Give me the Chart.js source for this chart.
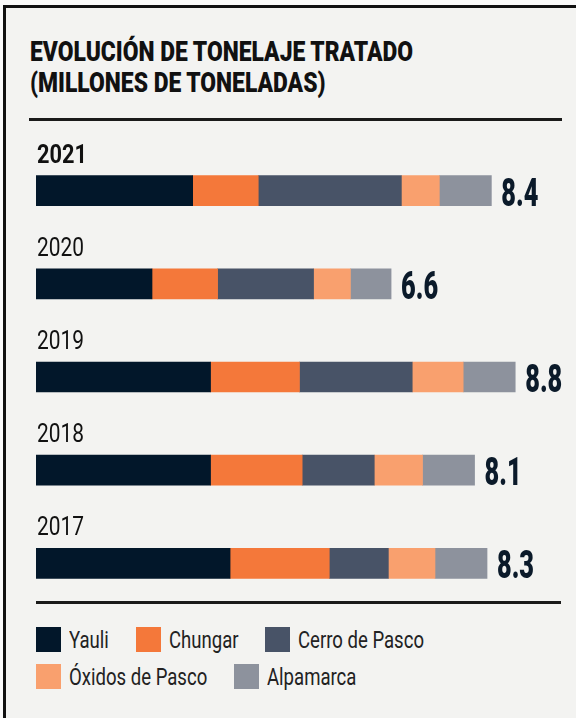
<!DOCTYPE html>
<html lang="es">
<head>
<meta charset="UTF-8">
<title>Evolución de tonelaje tratado</title>
<script src="https://cdn.jsdelivr.net/npm/chart.js"></script>
<style>
  html, body { margin: 0; padding: 0; }
  body { width: 576px; height: 718px; overflow: hidden; background: #fafafa; position: relative; font-family: Roboto, sans-serif; }
  #card {
    position: absolute; left: 3px; top: 5px; width: 700px; height: 800px;
    border-left: 3px solid #111; border-top: 3px solid #111;
    background: #f3f3f1;
  }
  #title {
    position: absolute; left: 30px; top: 36px; margin: 0;
    font-size: 28px; font-weight: 900; line-height: 31px; color: #111;
    transform-origin: left top; white-space: nowrap;
  }
  .rule { position: absolute; height: 3px; background: #1a1a1a; }
  #chartBox { position: absolute; left: 0; top: 120px; width: 576px; height: 500px; }
  #legend { position: absolute; left: 36px; top: 627px; width: 440px; display: flex; flex-wrap: wrap; row-gap: 12px; }
  .item { display: flex; align-items: flex-end; margin-right: 27px; height: 25px; }
  .box { width: 25px; height: 25px; margin-right: 8px; flex: none; }
  .txt { display: inline-block; font-size: 24px; line-height: 24px; color: #222; transform-origin: left bottom; white-space: nowrap; }
</style>
</head>
<body>
<div id="card"></div>
<div id="title"><span id="t1">EVOLUCIÓN DE TONELAJE TRATADO</span><br>(MILLONES DE TONELADAS)</div>
<div class="rule" style="left:29px; top:118px; width:533px;"></div>
<div class="rule" style="left:36px; top:601px; width:525px;"></div>
<div id="chartBox"><canvas id="tonelaje"></canvas></div>
<div id="legend"></div>

<script>
// datos (millones de toneladas)
const years = ['2021', '2020', '2019', '2018', '2017'];
const totals = ['8.4', '6.6', '8.8', '8.1', '8.3'];

const yauli = [2.89, 2.14, 3.22, 3.22, 3.58];
const chungar = [1.21, 1.21, 1.64, 1.69, 1.83];
const cerroDePasco = [2.64, 1.77, 2.08, 1.33, 1.09];
const oxidosDePasco = [0.70, 0.68, 0.94, 0.89, 0.86];
const alpamarca = [0.96, 0.75, 0.96, 0.96, 0.96];

const unitNames = ['Yauli', 'Chungar', 'Cerro de Pasco', 'Óxidos de Pasco', 'Alpamarca'];
const unitColors = ['#02172a', '#f4783a', '#485367', '#f9a06e', '#8d929d'];
const unitValues = [yauli, chungar, cerroDePasco, oxidosDePasco, alpamarca];

const FONT = 'Roboto, sans-serif';

// the original uses a condensed face; squeeze Roboto to the widths
const measurer = document.createElement('canvas').getContext('2d');
function squeeze(text, font, target) {
    measurer.font = font;
    return target / measurer.measureText(text).width;
}

const title = document.getElementById('title');
const titleScale = 383 / document.getElementById('t1').getBoundingClientRect().width;
title.style.transform = 'scaleX(' + titleScale + ')';

// year label above each bar
const yearLabels = {
    id: 'yearLabels',
    afterDatasetsDraw(chart) {
        const ctx = chart.ctx;
        const yScale = chart.scales.y;
        ctx.save();
        ctx.fillStyle = '#111';
        ctx.textBaseline = 'alphabetic';
        ctx.textAlign = 'left';
        years.forEach((yr, i) => {
            const font = (i === 0 ? 'bold ' : '') + '25px ' + FONT;
            const k = squeeze('2020', font, i === 0 ? 50 : 47);
            ctx.font = font;
            ctx.save();
            ctx.translate(chart.chartArea.left + 1, yScale.getPixelForValue(i) - 28);
            ctx.scale(k, 1);
            ctx.fillText(yr, 0, 0);
            ctx.restore();
        });
        ctx.restore();
    }
};

// total at the end of each bar
const totalLabels = {
    id: 'totalLabels',
    afterDatasetsDraw(chart) {
        const ctx = chart.ctx;
        const last = chart.getDatasetMeta(chart.data.datasets.length - 1);
        const font = '900 39px ' + FONT;
        const k = squeeze('8.4', font, 37);
        ctx.save();
        ctx.fillStyle = '#0b1a2a';
        ctx.font = font;
        ctx.textBaseline = 'alphabetic';
        ctx.textAlign = 'left';
        last.data.forEach((bar, i) => {
            ctx.save();
            ctx.translate(bar.x + 10, bar.y + bar.height / 2);
            ctx.scale(k, 1);
            ctx.fillText(totals[i], 0, 0);
            ctx.restore();
        });
        ctx.restore();
    }
};

// legend built in html from the chart's own legend items
const htmlLegend = {
    id: 'htmlLegend',
    afterUpdate(chart) {
        const box = document.getElementById('legend');
        box.innerHTML = '';
        const k = squeeze('Cerro de Pasco', '24px ' + FONT, 126);
        const items = chart.options.plugins.legend.labels.generateLabels(chart);
        items.forEach(item => {
            const el = document.createElement('div');
            el.className = 'item';
            const sw = document.createElement('span');
            sw.className = 'box';
            sw.style.background = item.fillStyle;
            const tx = document.createElement('span');
            tx.className = 'txt';
            tx.textContent = item.text;
            tx.style.transform = 'scaleX(' + k + ')';
            el.appendChild(sw);
            el.appendChild(tx);
            box.appendChild(el);
            const w = tx.getBoundingClientRect().width / k;
            tx.style.marginRight = (-(1 - k) * w) + 'px';
        });
    }
};

const ctx = document.getElementById('tonelaje').getContext('2d');
const chart = new Chart(ctx, {
    type: 'bar',
    data: {
        labels: years,
        datasets: unitNames.map((name, i) => ({
            label: name,
            data: unitValues[i],
            backgroundColor: unitColors[i],
            borderWidth: 0,
            barThickness: 30,
        })),
    },
    options: {
        indexAxis: 'y',
        responsive: true,
        maintainAspectRatio: false,
        animation: false,
        layout: { padding: { left: 36, right: 25, top: 24, bottom: 10 } },
        scales: {
            x: { stacked: true, display: false, min: 0, max: 9.5 },
            y: { stacked: true, display: false },
        },
        plugins: {
            legend: { display: false },
            tooltip: { enabled: false },
        },
    },
    plugins: [yearLabels, totalLabels, htmlLegend],
});
</script>
</body>
</html>
